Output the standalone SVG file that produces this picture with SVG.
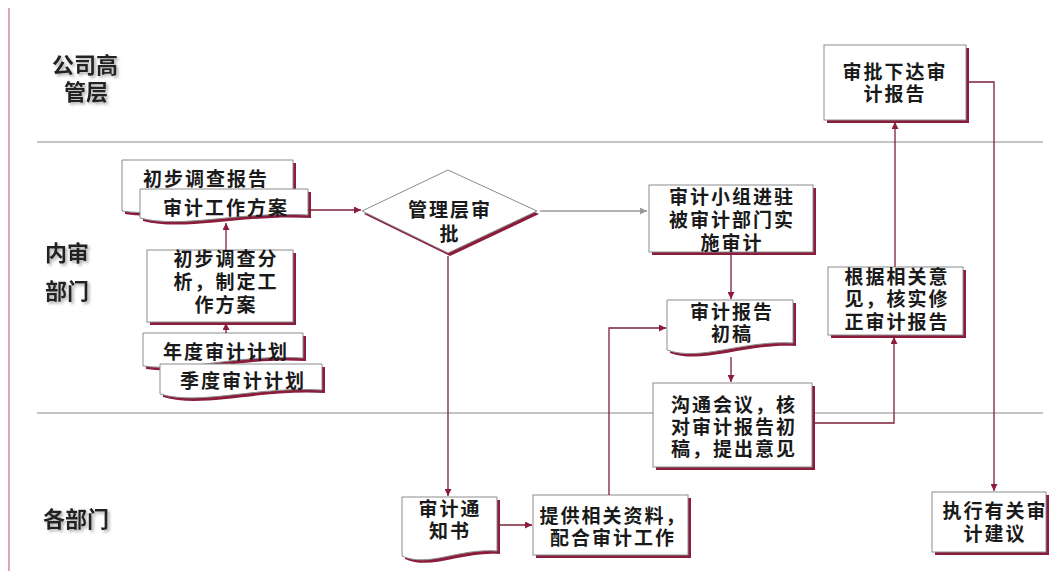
<svg xmlns="http://www.w3.org/2000/svg" width="1051" height="571" viewBox="0 0 1051 571">
<defs>
<style>
.bg{fill:#ffffff}
.lane{stroke:#8a8a8a;stroke-width:1.2;fill:none}
.border{stroke:#d9aab6;stroke-width:2;fill:none}
.sh{fill:#8b1c3c}
.bx{fill:#ffffff;stroke:#8c8c8c;stroke-width:1}
.t{font-family:"Liberation Sans","Noto Sans CJK SC",sans-serif;font-weight:bold;font-size:19px;fill:#1a1a1a;text-anchor:middle;letter-spacing:2px}
.lt{font-family:"Liberation Sans","Noto Sans CJK SC",sans-serif;font-weight:bold;font-size:22px;fill:#222;text-anchor:middle;filter:url(#ts)}
.c{stroke:#7e1f36;stroke-width:1.3;fill:none;marker-end:url(#ah)}
.cg{stroke:#9a9a9a;stroke-width:1.3;fill:none;marker-end:url(#ahg)}
</style>
<filter id="ts" x="-20%" y="-20%" width="140%" height="160%">
<feDropShadow dx="2" dy="2" stdDeviation="1.5" flood-color="#888" flood-opacity="0.7"/>
</filter>
<marker id="ah" viewBox="0 0 10 10" refX="10" refY="5" markerWidth="9" markerHeight="7" markerUnits="userSpaceOnUse" orient="auto">
<path d="M0,0 L10,5 L0,10 z" fill="#8b1c3c"/>
</marker>
<marker id="ahg" viewBox="0 0 10 10" refX="10" refY="5" markerWidth="9" markerHeight="7" markerUnits="userSpaceOnUse" orient="auto">
<path d="M0,0 L10,5 L0,10 z" fill="#9a9a9a"/>
</marker>
</defs>
<rect class="bg" x="0" y="0" width="1051" height="571"/>

<g id="lanes">
<line class="border" x1="9" y1="8" x2="9" y2="571"/>
<line class="lane" x1="37" y1="142" x2="1043" y2="142"/>
<line class="lane" x1="37" y1="413" x2="1043" y2="413"/>
<text class="lt" x="85" y="73">公司高<tspan x="86" dy="27">管层</tspan></text>
<text class="lt" x="67" y="261">内审<tspan x="67" dy="38">部门</tspan></text>
<text class="lt" x="76" y="527">各部门</text>
</g>

<g id="n-prelim-report">
<path class="sh" transform="translate(3,3)" d="M122,160 H293 V203 C225,199 165,218 122,211 Z"/>
<path class="bx" d="M122,160 H293 V203 C225,199 165,218 122,211 Z"/>
<text class="t" x="206" y="186">初步调查报告</text>
</g>

<g id="n-work-plan">
<path class="sh" transform="translate(3,3)" d="M140,189 H308 V215 C241,211 182,229 140,218 Z"/>
<path class="bx" d="M140,189 H308 V215 C241,211 182,229 140,218 Z"/>
<text class="t" x="226" y="215">审计工作方案</text>
</g>

<g id="n-analysis">
<rect class="sh" x="150" y="253" width="146" height="72"/>
<rect class="bx" x="147" y="250" width="146" height="72"/>
<text class="t" x="226" y="266">初步调查分<tspan x="226" dy="23">析，制定工</tspan><tspan x="226" dy="23">作方案</tspan></text>
</g>

<g id="n-annual">
<path class="sh" transform="translate(3,3)" d="M143,333 H303 V358 C240,354 185,372 143,366 Z"/>
<path class="bx" d="M143,333 H303 V358 C240,354 185,372 143,366 Z"/>
<text class="t" x="226" y="359">年度审计计划</text>
</g>

<g id="n-quarter">
<path class="sh" transform="translate(3,3)" d="M160,364 H322 V390 C257,386 200,406 160,394 Z"/>
<path class="bx" d="M160,364 H322 V390 C257,386 200,406 160,394 Z"/>
<text class="t" x="243" y="388">季度审计计划</text>
</g>

<g id="n-approve">
<polygon class="sh" transform="translate(2,3)" points="362,211 448,170 537,211 448,253"/>
<polygon class="bx" points="362,211 448,170 537,211 448,253"/>
<text class="t" x="450" y="217">管理层审<tspan x="450" dy="24">批</tspan></text>
</g>

<g id="n-fieldwork">
<rect class="sh" x="652" y="188" width="164" height="67"/>
<rect class="bx" x="649" y="185" width="164" height="67"/>
<text class="t" x="732" y="204">审计小组进驻<tspan x="732" dy="23">被审计部门实</tspan><tspan x="732" dy="23">施审计</tspan></text>
</g>

<g id="n-draft">
<path class="sh" transform="translate(3,3)" d="M667,300 H793 V343 C743,340 700,362 667,350 Z"/>
<path class="bx" d="M667,300 H793 V343 C743,340 700,362 667,350 Z"/>
<text class="t" x="732" y="319">审计报告<tspan x="732" dy="22">初稿</tspan></text>
</g>

<g id="n-meeting">
<rect class="sh" x="656" y="386" width="159" height="84"/>
<rect class="bx" x="653" y="383" width="159" height="84"/>
<text class="t" x="734" y="412">沟通会议，核<tspan x="734" dy="22">对审计报告初</tspan><tspan x="734" dy="22">稿，提出意见</tspan></text>
</g>

<g id="n-revise">
<rect class="sh" x="831" y="270" width="135" height="68"/>
<rect class="bx" x="828" y="267" width="135" height="68"/>
<text class="t" x="897" y="284">根据相关意<tspan x="897" dy="22">见，核实修</tspan><tspan x="897" dy="23">正审计报告</tspan></text>
</g>

<g id="n-issue">
<rect class="sh" x="827" y="48" width="142" height="75"/>
<rect class="bx" x="824" y="45" width="142" height="75"/>
<text class="t" x="895" y="79">审批下达审<tspan x="895" dy="22">计报告</tspan></text>
</g>

<g id="n-execute">
<rect class="sh" x="935" y="495" width="114" height="60"/>
<rect class="bx" x="932" y="492" width="114" height="60"/>
<text class="t" x="995" y="518">执行有关审<tspan x="995" dy="23">计建议</tspan></text>
</g>

<g id="n-notice">
<path class="sh" transform="translate(3,3)" d="M402,497 H497 V551 C459,548 428,568 402,556 Z"/>
<path class="bx" d="M402,497 H497 V551 C459,548 428,568 402,556 Z"/>
<text class="t" x="450" y="516">审计通<tspan x="450" dy="22">知书</tspan></text>
</g>

<g id="n-provide">
<rect class="sh" x="536" y="498" width="155" height="60"/>
<rect class="bx" x="533" y="495" width="155" height="60"/>
<text class="t" x="613" y="523">提供相关资料，<tspan x="613" dy="22">配合审计工作</tspan></text>
</g>

<g id="connectors">
<path class="c" d="M308,210 H361"/>
<path class="c" d="M226,250 V223"/>
<path class="c" d="M226,333 V323"/>
<path class="cg" d="M540,211 H647"/>
<path class="c" d="M448,256 V496"/>
<path class="c" d="M731,255 V299"/>
<path class="c" d="M731,357 V382"/>
<path class="c" d="M815,423 H894 V337"/>
<path class="c" d="M895,267 V122"/>
<path class="c" d="M969,82 H994 V491"/>
<path class="c" d="M499,525 H532"/>
<path class="c" d="M609,495 V328 H666"/>
</g>
</svg>
